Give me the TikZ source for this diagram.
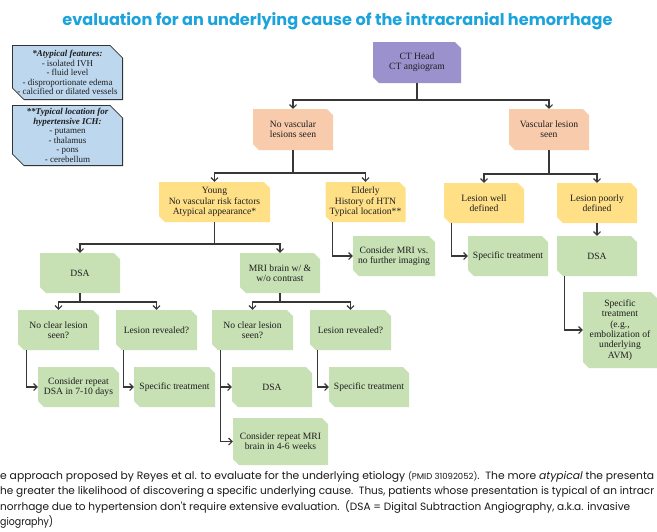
\documentclass[tikz,border=0pt]{standalone}
\usepackage{graphicx}
\usepackage{fontspec}
\setmainfont{Liberation Serif}
\newfontfamily\capfont{Poppins}
\usetikzlibrary{arrows.meta,calc}
\definecolor{titc}{RGB}{27,163,220}
\definecolor{legc}{RGB}{189,215,238}
\definecolor{purp}{RGB}{155,145,205}
\definecolor{oran}{RGB}{248,203,173}
\definecolor{yell}{RGB}{255,224,135}
\definecolor{gren}{RGB}{199,224,180}
\definecolor{linec}{RGB}{55,55,55}
\definecolor{txtc}{RGB}{30,30,30}
\definecolor{capc}{RGB}{25,25,25}
\tikzset{
  cbox/.style={rectangle, inner sep=0pt, align=center, text=txtc,
    font=\fontsize{9.6}{10.4}\selectfont, minimum width=80pt, minimum height=40pt,
    path picture={\fill[#1] (path picture bounding box.north west)
      -- ([xshift=-6pt]path picture bounding box.north east)
      -- ([yshift=-6pt]path picture bounding box.north east)
      -- (path picture bounding box.south east)
      -- ([xshift=6pt]path picture bounding box.south west)
      -- ([yshift=6pt]path picture bounding box.south west) -- cycle;}},
  legbox/.style={rectangle, inner sep=0pt, align=center, text=txtc,
    font=\fontsize{9}{9.5}\selectfont, minimum width=111pt,
    path picture={\filldraw[fill=legc, draw=black!80, line width=0.8pt]
      ([shift={(0.4pt,-0.4pt)}]path picture bounding box.north west)
      -- ([shift={(-13pt,-0.4pt)}]path picture bounding box.north east)
      -- ([shift={(-0.4pt,-13pt)}]path picture bounding box.north east)
      -- ([shift={(-0.4pt,0.4pt)}]path picture bounding box.south east)
      -- ([shift={(12pt,0.4pt)}]path picture bounding box.south west)
      -- ([shift={(0.4pt,12pt)}]path picture bounding box.south west) -- cycle;}},
  arr/.style={draw=linec, line width=1.1pt, -{Straight Barb[length=3.5pt,width=7pt]}},
  capt/.style={anchor=base west, inner sep=0pt, text=capc, font=\capfont\fontsize{10.6}{12}\selectfont}
}
\begin{document}
\begin{tikzpicture}[x=1pt,y=-1pt]
\useasboundingbox[fill=white] (0,0) rectangle (657,531);
% title
\node[inner sep=0pt] (title) at (337.5,21) {\resizebox{550pt}{!}{\capfont\bfseries\color{titc}evaluation for an underlying cause of the intracranial hemorrhage}};
% legend
\node[legbox, minimum height=55pt] (leg1) at (67.5,72.5) {{\bfseries\itshape *Atypical features:}\\- isolated IVH\\- fluid level\\- disproportionate edema\\- calcified or dilated vessels};
\node[legbox, minimum height=61pt] (leg2) at (67.5,135.5) {{\bfseries\itshape **Typical location for}\\{\bfseries\itshape hypertensive ICH:}\\- putamen\\- thalamus\\- pons\\- cerebellum};
% nodes
\node[cbox=purp, minimum width=88pt, minimum height=41pt] (ct) at (417,62.5) {CT Head\\CT angiogram};
\node[cbox=oran, minimum height=41pt] (nv) at (293,129.5) {No vascular\\lesions seen};
\node[cbox=oran, minimum height=41pt] (vl) at (549,129.5) {Vascular lesion\\seen};
\node[cbox=yell, minimum width=111pt] (young) at (214.5,202) {Young\\No vascular risk factors\\Atypical appearance*};
\node[cbox=yell] (eld) at (365.5,202) {Elderly\\History of HTN\\Typical location**};
\node[cbox=yell] (lwd) at (484,203) {Lesion well\\defined};
\node[cbox=yell] (lpd) at (597,203) {Lesion poorly\\defined};
\node[cbox=gren] (st1) at (508,256) {Specific treatment};
\node[cbox=gren] (dsa2) at (597,256) {DSA};
\node[cbox=gren, minimum width=74pt, minimum height=76pt] (st2) at (620,330) {Specific\\treatment\\(e.g.,\\embolization of\\underlying\\AVM)};
\node[cbox=gren, minimum width=82pt] (cmri) at (394,256) {Consider MRI vs.\\no further imaging};
\node[cbox=gren] (dsa1) at (80,273) {DSA};
\node[cbox=gren] (mri) at (280,273) {MRI brain w/ \&\\w/o contrast};
\node[cbox=gren, minimum width=81pt] (ncl1) at (58.5,330) {No clear lesion\\seen?};
\node[cbox=gren, minimum width=81pt] (lr1) at (156.5,330) {Lesion revealed?};
\node[cbox=gren, minimum width=81pt] (cdsa) at (78.5,387) {Consider repeat\\DSA in 7-10 days};
\node[cbox=gren, minimum width=81pt] (st3) at (174.5,387) {Specific treatment};
\node[cbox=gren, minimum width=81pt] (ncl2) at (252.5,330) {No clear lesion\\seen?};
\node[cbox=gren, minimum width=81pt] (lr2) at (350.5,330) {Lesion revealed?};
\node[cbox=gren] (dsa3) at (272,387) {DSA};
\node[cbox=gren, minimum width=95pt, minimum height=47pt] (cmri2) at (280.5,441.5) {Consider repeat MRI\\brain in 4-6 weeks};
\node[cbox=gren] (st4) at (369,387) {Specific treatment};
% junctions
\coordinate (j1) at (417,100);
\coordinate (j2) at (293,173);
\coordinate (j3) at (549,174);
\coordinate (j4) at (214.5,244);
\coordinate (j5) at (80,302);
\coordinate (j6) at (280,302);
% connectors
\draw[arr] (ct.south) -- (j1) -| (nv.north);
\draw[arr] (ct.south) -- (j1) -| (vl.north);
\draw[arr] (nv.south) -- (j2) -| (young.north);
\draw[arr] (nv.south) -- (j2) -| (eld.north);
\draw[arr] (vl.south) -- (j3) -| (lwd.north);
\draw[arr] (vl.south) -- (j3) -| (lpd.north);
\draw[arr] (lpd.south) -- (dsa2.north);
\draw[arr] ([xshift=8pt]lwd.south west) |- (st1.west);
\draw[arr] ([xshift=7pt]eld.south west) |- (cmri.west);
\draw[arr] ([xshift=8pt]dsa2.south west) |- (st2.west);
\draw[arr] (young.south) -- (j4) -| (dsa1.north);
\draw[arr] (young.south) -- (j4) -| (mri.north);
\draw[arr] (dsa1.south) -- (j5) -| (ncl1.north);
\draw[arr] (dsa1.south) -- (j5) -| (lr1.north);
\draw[arr] (mri.south) -- (j6) -| (ncl2.north);
\draw[arr] (mri.south) -- (j6) -| (lr2.north);
\draw[arr] ([xshift=9pt]ncl1.south west) |- (cdsa.west);
\draw[arr] ([xshift=8pt]lr1.south west) |- (st3.west);
\draw[arr] ([xshift=8.5pt]ncl2.south west) |- (dsa3.west);
\draw[arr] ([xshift=8.5pt]ncl2.south west) |- (cmri2.west);
\draw[arr] ([xshift=8pt]lr2.south west) |- (st4.west);
% caption
\node[capt] (c1) at (0,479) {\resizebox{654pt}{\height}{e approach proposed by Reyes et al. to evaluate for the underlying etiology {\fontsize{8.4}{10}\selectfont(PMID 31092052)}.\ \ The more \textit{atypical} the presenta}};
\node[capt] (c2) at (0,494.5) {\resizebox{654pt}{\height}{he greater the likelihood of discovering a specific underlying cause.\ \ Thus, patients whose presentation is typical of an intracr}};
\node[capt] (c3) at (0,510) {\resizebox{630pt}{\height}{norrhage due to hypertension don't require extensive evaluation.\ \ (DSA = Digital Subtraction Angiography, a.k.a. invasive}};
\node[capt] (c4) at (0,525.5) {\resizebox{53pt}{\height}{giography)}};
\end{tikzpicture}
\end{document}
